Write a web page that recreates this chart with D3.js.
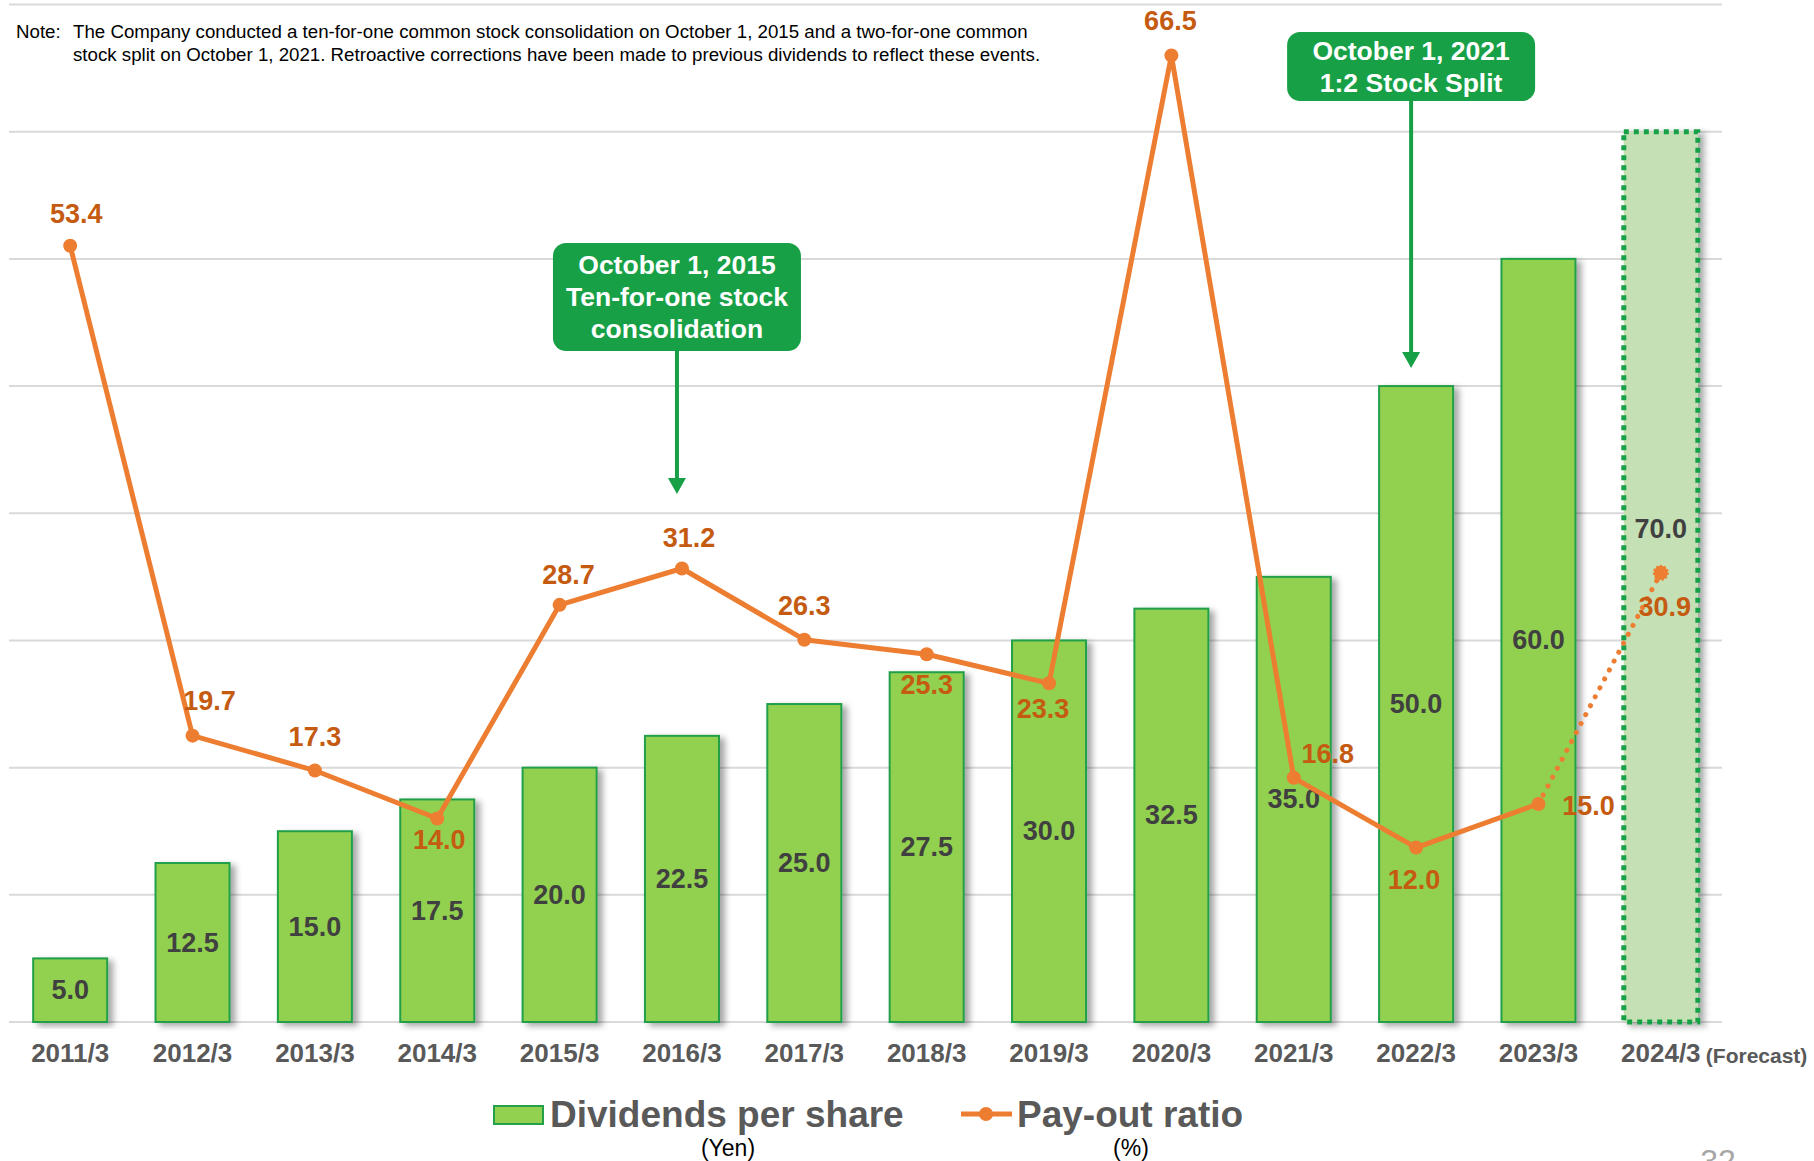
<!DOCTYPE html>
<html>
<head>
<meta charset="utf-8">
<script src="https://cdn.jsdelivr.net/npm/d3@7/dist/d3.min.js"></script>
<style>
  html, body { margin: 0; padding: 0; background: #fff; }
  svg { display: block; font-family: "Liberation Sans", Arial, sans-serif; }
</style>
</head>
<body>
<svg id="chart" width="1814" height="1161"></svg>
<script>
// Fiscal years (March year-end); the last one is a forecast
const years = ["2011/3", "2012/3", "2013/3", "2014/3", "2015/3", "2016/3", "2017/3",
               "2018/3", "2019/3", "2020/3", "2021/3", "2022/3", "2023/3", "2024/3"];
const forecastFlags = [false, false, false, false, false, false, false,
                       false, false, false, false, false, false, true];
// Dividends per share (yen)
const dividends = [5.0, 12.5, 15.0, 17.5, 20.0, 22.5, 25.0, 27.5, 30.0, 32.5, 35.0, 50.0, 60.0, 70.0];
// Pay-out ratio (%)
const payout = [53.4, 19.7, 17.3, 14.0, 28.7, 31.2, 26.3, 25.3, 23.3, 66.5, 16.8, 12.0, 15.0, 30.9];
// Axis extents (hidden axes share the same eight gridline intervals)
const dividendMax = 80;
const payoutMax = 70;
const gridTicks = [0, 10, 20, 30, 40, 50, 60, 70, 80];

const noteLines = [
  "The Company conducted a ten-for-one common stock consolidation on October 1, 2015 and a two-for-one common",
  "stock split on October 1, 2021. Retroactive corrections have been made to previous dividends to reflect these events."
];
const callouts = [
  { year: "2016/3", lines: ["October 1, 2015", "Ten-for-one stock", "consolidation"] },
  { year: "2022/3", lines: ["October 1, 2021", "1:2 Stock Split"] }
];

// Placement of each pay-out label relative to its point
const ratioLabelOffset = [
  [6, -32], [17, -35], [0, -34], [2, 21], [9, -30], [7, -30], [0, -34],
  [0, 31], [-6, 26], [-1, -34], [34, -24], [-2, 32], [50, 2], [4, 34]
];

const C = {
  grid: "#d9d9d9", bar: "#92d050", barEdge: "#22a04a", forecast: "#c5e0b4",
  green: "#18a046", line: "#ed7d31", ratioText: "#c55a11", barText: "#404040",
  axisText: "#595959"
};

const svg = d3.select("#chart");
const plotLeft = 9, plotRight = 1722, plotTop = 4.5, plotBottom = 1022;

const x = d3.scaleBand().domain(years).range([plotLeft, plotRight])
  .paddingInner(0.395).paddingOuter(0.1975);
const yDiv = d3.scaleLinear().domain([0, dividendMax]).range([plotBottom, plotTop]);
const yPay = d3.scaleLinear().domain([0, payoutMax]).range([plotBottom, plotTop]);
const cx = d => x(d) + x.bandwidth() / 2;

const defs = svg.append("defs");
defs.append("filter").attr("id", "barShadow")
  .attr("x", "-20%").attr("y", "-5%").attr("width", "150%").attr("height", "115%")
  .append("feDropShadow")
  .attr("dx", 5).attr("dy", 3).attr("stdDeviation", 3)
  .attr("flood-color", "#000").attr("flood-opacity", 0.35);

// Gridlines
svg.append("g").selectAll("line").data(gridTicks).join("line")
  .attr("x1", plotLeft).attr("x2", plotRight)
  .attr("y1", d => yDiv(d)).attr("y2", d => yDiv(d))
  .attr("stroke", C.grid).attr("stroke-width", 2);

// Bars
const bars = years.map((yr, i) => ({ yr, v: dividends[i], fc: forecastFlags[i] }));
svg.append("g").selectAll("rect").data(bars).join("rect")
  .attr("x", d => x(d.yr)).attr("width", x.bandwidth())
  .attr("y", d => yDiv(d.v)).attr("height", d => yDiv(0) - yDiv(d.v))
  .attr("fill", d => d.fc ? C.forecast : C.bar)
  .attr("stroke", d => d.fc ? C.green : C.barEdge)
  .attr("stroke-width", d => d.fc ? 5 : 2)
  .attr("stroke-dasharray", d => d.fc ? "5 5" : null)
  .attr("filter", "url(#barShadow)");

// Bar value labels
svg.append("g").selectAll("text").data(bars).join("text")
  .attr("x", d => cx(d.yr))
  .attr("y", (d, i) => d.fc ? yPay(payout[i]) - 44 : (yDiv(d.v) + yDiv(0)) / 2)
  .attr("text-anchor", "middle").attr("dominant-baseline", "central")
  .attr("font-size", 27).attr("font-weight", "bold").attr("fill", C.barText)
  .text(d => d.v.toFixed(1));

// X axis labels
const xAxis = d3.axisBottom(x).tickSize(0).tickPadding(0);
const gx = svg.append("g").attr("transform", `translate(0,${plotBottom + 22})`).call(xAxis);
gx.select(".domain").remove();
gx.selectAll("text").attr("font-size", 26).attr("font-weight", "bold")
  .attr("fill", C.axisText).attr("font-family", "Liberation Sans, Arial, sans-serif")
  .attr("dy", "0.71em");
svg.append("text")
  .attr("x", cx(years[13]) + 45).attr("y", plotBottom + 41)
  .attr("font-size", 21).attr("font-weight", "bold").attr("fill", C.axisText)
  .text("(Forecast)");

// Pay-out ratio line
const pts = years.map((yr, i) => ({ yr, v: payout[i], fc: forecastFlags[i], i }));
const lineGen = d3.line().x(d => cx(d.yr)).y(d => yPay(d.v));
const actual = pts.filter(d => !d.fc);
const lastActual = actual[actual.length - 1];
const projected = [lastActual].concat(pts.filter(d => d.fc));

svg.append("path").datum(projected).attr("d", lineGen)
  .attr("fill", "none").attr("stroke", C.line).attr("stroke-width", 5)
  .attr("stroke-linecap", "round").attr("stroke-dasharray", "0.1 10");
svg.append("path").datum(actual).attr("d", lineGen)
  .attr("fill", "none").attr("stroke", C.line).attr("stroke-width", 5)
  .attr("stroke-linejoin", "round");
svg.append("g").selectAll("circle").data(pts).join("circle")
  .attr("cx", d => cx(d.yr)).attr("cy", d => yPay(d.v)).attr("r", 7)
  .attr("fill", C.line)
  .attr("stroke", d => d.fc ? C.line : "none")
  .attr("stroke-width", d => d.fc ? 2 : 0)
  .attr("stroke-dasharray", d => d.fc ? "2 2" : null);

// Pay-out ratio labels
svg.append("g").selectAll("text").data(pts).join("text")
  .attr("x", d => cx(d.yr) + ratioLabelOffset[d.i][0])
  .attr("y", d => yPay(d.v) + ratioLabelOffset[d.i][1])
  .attr("text-anchor", "middle").attr("dominant-baseline", "central")
  .attr("font-size", 27).attr("font-weight", "bold").attr("fill", C.ratioText)
  .text(d => d.v.toFixed(1));

// Note
const note = svg.append("g").attr("font-size", 18.7).attr("fill", "#000");
note.append("text").attr("x", 16).attr("y", 38).text("Note:");
note.selectAll("text.nl").data(noteLines).join("text").attr("class", "nl")
  .attr("x", 73).attr("y", (d, i) => 38 + i * 23).text(d => d);

// Callouts with arrows
const calloutGeom = [
  { boxTop: 243, boxH: 108, tip: 494 },
  { boxTop: 32, boxH: 69, tip: 368 }
];
callouts.forEach((c, k) => {
  const g = svg.append("g");
  const mx = cx(c.year) - 5;
  const geo = calloutGeom[k];
  const w = 248;
  g.append("line").attr("x1", mx).attr("x2", mx)
    .attr("y1", geo.boxTop + geo.boxH).attr("y2", geo.tip - 14)
    .attr("stroke", C.green).attr("stroke-width", 4);
  g.append("path")
    .attr("d", `M${mx - 9},${geo.tip - 16} L${mx + 9},${geo.tip - 16} L${mx},${geo.tip} Z`)
    .attr("fill", C.green);
  g.append("rect").attr("x", mx - w / 2).attr("y", geo.boxTop)
    .attr("width", w).attr("height", geo.boxH).attr("rx", 13)
    .attr("fill", C.green);
  const lh = 32;
  const y0 = geo.boxTop + geo.boxH / 2 - (c.lines.length - 1) * lh / 2;
  g.selectAll("text").data(c.lines).join("text")
    .attr("x", mx).attr("y", (d, i) => y0 + i * lh)
    .attr("text-anchor", "middle").attr("dominant-baseline", "central")
    .attr("font-size", 26.5).attr("font-weight", "bold").attr("fill", "#fff")
    .text(d => d);
});

// Legend
const lg = svg.append("g");
lg.append("rect").attr("x", 494).attr("y", 1106).attr("width", 49).attr("height", 18)
  .attr("fill", C.bar).attr("stroke", C.barEdge).attr("stroke-width", 2);
lg.append("text").attr("x", 550).attr("y", 1127)
  .attr("font-size", 37).attr("font-weight", "bold").attr("fill", C.axisText)
  .text("Dividends per share");
lg.append("text").attr("x", 728).attr("y", 1156).attr("text-anchor", "middle")
  .attr("font-size", 23).attr("fill", "#000").text("(Yen)");
lg.append("line").attr("x1", 961).attr("x2", 1012).attr("y1", 1114).attr("y2", 1114)
  .attr("stroke", C.line).attr("stroke-width", 5);
lg.append("circle").attr("cx", 986).attr("cy", 1114).attr("r", 7).attr("fill", C.line);
lg.append("text").attr("x", 1017).attr("y", 1127)
  .attr("font-size", 37).attr("font-weight", "bold").attr("fill", C.axisText)
  .text("Pay-out ratio");
lg.append("text").attr("x", 1131).attr("y", 1156).attr("text-anchor", "middle")
  .attr("font-size", 23).attr("fill", "#000").text("(%)");

// Page number, running off the bottom edge of the page
svg.append("text").attr("x", 1718).attr("y", 1172).attr("text-anchor", "middle")
  .attr("font-size", 32).attr("fill", "#a6a6a6").text("32");
</script>
</body>
</html>
